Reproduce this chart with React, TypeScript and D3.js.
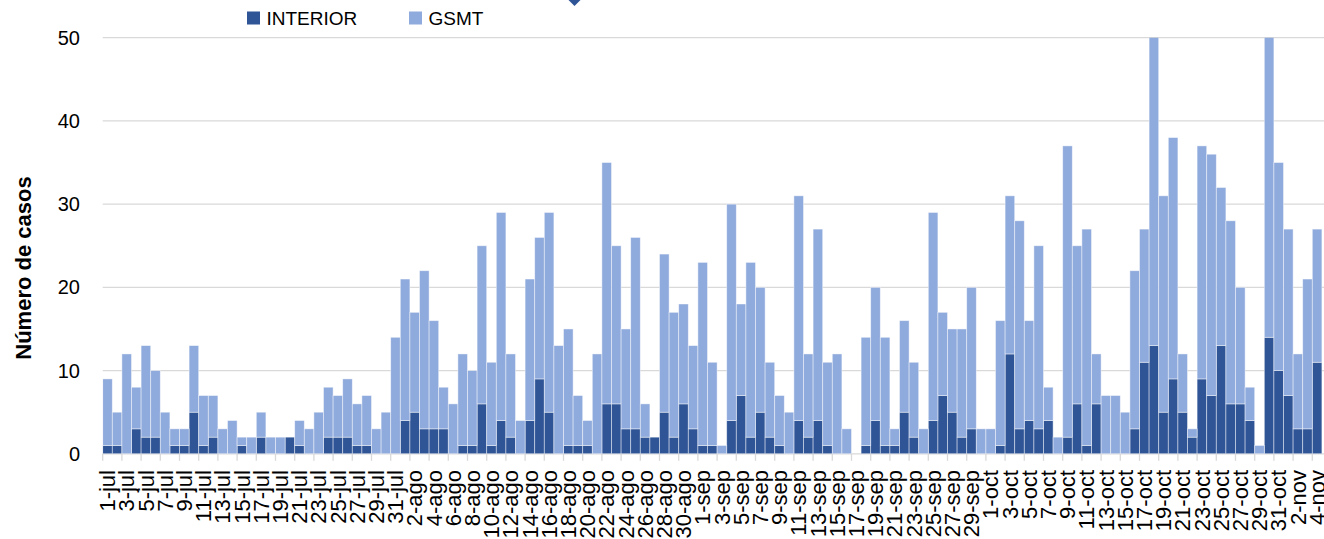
import React, { useRef, useEffect } from "react";
import * as d3 from "d3";

// months shown on the axis and how many days of each
const months = ["jul", "ago", "sep", "oct", "nov"];
const monthDays = [31, 31, 30, 31, 4];

// daily cases, 1-jul .. 4-nov
const interior = [
  1, 1, 0, 3, 2, 2, 0, 1, 1, 5, 1, 2, 0, 0, 1, 0, 2, 0, 0, 2,
  1, 0, 0, 2, 2, 2, 1, 1, 0, 0, 0, 4, 5, 3, 3, 3, 0, 1, 1, 6,
  1, 4, 2, 0, 4, 9, 5, 0, 1, 1, 1, 0, 6, 6, 3, 3, 2, 2, 5, 2,
  6, 3, 1, 1, 0, 4, 7, 2, 5, 2, 1, 0, 4, 2, 4, 1, 0, 0, 0, 1,
  4, 1, 1, 5, 2, 0, 4, 7, 5, 2, 3, 0, 0, 1, 12, 3, 4, 3, 4, 0,
  2, 6, 1, 6, 0, 0, 0, 3, 11, 13, 5, 9, 5, 2, 9, 7, 13, 6, 6, 4,
  0, 14, 10, 7, 3, 3, 11,
];
const gsmt = [
  8, 4, 12, 5, 11, 8, 5, 2, 2, 8, 6, 5, 3, 4, 1, 2, 3, 2, 2, 0,
  3, 3, 5, 6, 5, 7, 5, 6, 3, 5, 14, 17, 12, 19, 13, 5, 6, 11, 9, 19,
  10, 25, 10, 4, 17, 17, 24, 13, 14, 6, 3, 12, 29, 19, 12, 23, 4, 0, 19, 15,
  12, 10, 22, 10, 1, 26, 11, 21, 15, 9, 6, 5, 27, 10, 23, 10, 12, 3, 0, 13,
  16, 13, 2, 11, 9, 3, 25, 10, 10, 13, 17, 3, 3, 15, 19, 25, 12, 22, 4, 2,
  35, 19, 26, 6, 7, 7, 5, 19, 16, 43, 26, 29, 7, 1, 28, 29, 19, 22, 14, 4,
  1, 38, 25, 20, 9, 18, 16,
];
const yTicks = [0, 10, 20, 30, 40, 50];
const seriesNames = ["INTERIOR", "GSMT"];
const colors = ["#2F5597", "#8FAADC"];

const dates: string[] = [];
months.forEach((m, mi) => {
  for (let d = 1; d <= monthDays[mi]; d++) dates.push(d + "-" + m);
});

export default function App() {
  const svgRef = useRef<SVGSVGElement>(null);

  useEffect(() => {
    const svg = d3.select(svgRef.current);
    svg.selectAll("*").remove();

    const left = 102.7;
    const right = 1321.9;
    const top = 37.7;
    const bottom = 453.8;
    const font = "'Liberation Sans', Arial, sans-serif";

    const x = d3.scaleBand<string>().domain(dates).range([left, right]).padding(0);
    const y = d3.scaleLinear().domain([0, 50]).range([bottom, top]);

    const rows = dates.map((d, i) => ({ date: d, INTERIOR: interior[i], GSMT: gsmt[i] }));
    const stacked = d3.stack<any>().keys(seriesNames)(rows);

    // gridlines
    svg
      .append("g")
      .selectAll("line")
      .data(yTicks)
      .join("line")
      .attr("x1", left)
      .attr("x2", 1324)
      .attr("y1", (d) => y(d))
      .attr("y2", (d) => y(d))
      .attr("stroke", "#d9d9d9")
      .attr("stroke-width", 1.3);

    svg
      .append("defs")
      .append("clipPath")
      .attr("id", "plotclip")
      .append("rect")
      .attr("x", left)
      .attr("y", top)
      .attr("width", 1324 - left)
      .attr("height", bottom - top);

    const bars = svg.append("g").attr("clip-path", "url(#plotclip)");
    stacked.forEach((s, si) => {
      bars
        .append("g")
        .selectAll("rect")
        .data(s.filter((p) => p[1] - p[0] > 0))
        .join("rect")
        .attr("x", (p) => x(p.data.date)!)
        .attr("width", x.bandwidth())
        .attr("y", (p) => y(p[1]))
        .attr("height", (p) => y(p[0]) - y(p[1]))
        .attr("fill", colors[si])
        .attr("stroke", "#ffffff")
        .attr("stroke-opacity", 0.55)
        .attr("stroke-width", 0.8);
    });

    // y tick labels
    svg
      .append("g")
      .selectAll("text")
      .data(yTicks)
      .join("text")
      .attr("x", 80)
      .attr("y", (d) => y(d))
      .attr("dy", "0.35em")
      .attr("text-anchor", "end")
      .style("font-family", font)
      .style("font-size", "20px")
      .attr("fill", "#000")
      .text((d) => d);

    // x ticks every 2 days
    const tickIdx = dates.map((_, i) => i).filter((i) => i % 2 === 0);
    svg
      .append("g")
      .selectAll("line")
      .data(tickIdx)
      .join("line")
      .attr("x1", (i) => x(dates[i])!)
      .attr("x2", (i) => x(dates[i])!)
      .attr("y1", bottom)
      .attr("y2", bottom + 7)
      .attr("stroke", "#d9d9d9")
      .attr("stroke-width", 1.3);

    svg
      .append("g")
      .selectAll("text")
      .data(tickIdx)
      .join("text")
      .attr("transform", (i) => `translate(${x(dates[i])! + x.bandwidth() / 2},470) rotate(-90)`)
      .attr("dy", "0.35em")
      .attr("text-anchor", "end")
      .style("font-family", font)
      .style("font-size", "22px")
      .attr("fill", "#000")
      .text((i) => dates[i]);

    // axis title
    svg
      .append("text")
      .attr("transform", "translate(23,268) rotate(-90)")
      .attr("dy", "0.35em")
      .attr("text-anchor", "middle")
      .style("font-family", font)
      .style("font-size", "22px")
      .style("font-weight", "bold")
      .attr("fill", "#000")
      .text("Número de casos");

    // legend
    const legendX = [247, 409];
    const lg = svg.append("g");
    seriesNames.forEach((name, i) => {
      lg.append("rect")
        .attr("x", legendX[i])
        .attr("y", 11.5)
        .attr("width", 13)
        .attr("height", 13)
        .attr("fill", colors[i]);
      lg.append("text")
        .attr("x", legendX[i] + 19.5)
        .attr("y", 18)
        .attr("dy", "0.35em")
        .style("font-family", font)
        .style("font-size", "19px")
        .attr("fill", "#000")
        .text(name);
    });

    // marker cut off at the top edge
    svg
      .append("path")
      .attr("d", "M567.5,-1 L574.5,-8 L581.5,-1 L574.5,6 Z")
      .attr("fill", "#2F5597");
  }, []);

  return (
    <svg
      ref={svgRef}
      width={1324}
      height={539}
      style={{ position: "absolute", left: 0, top: 0, background: "#fff" }}
    />
  );
}
